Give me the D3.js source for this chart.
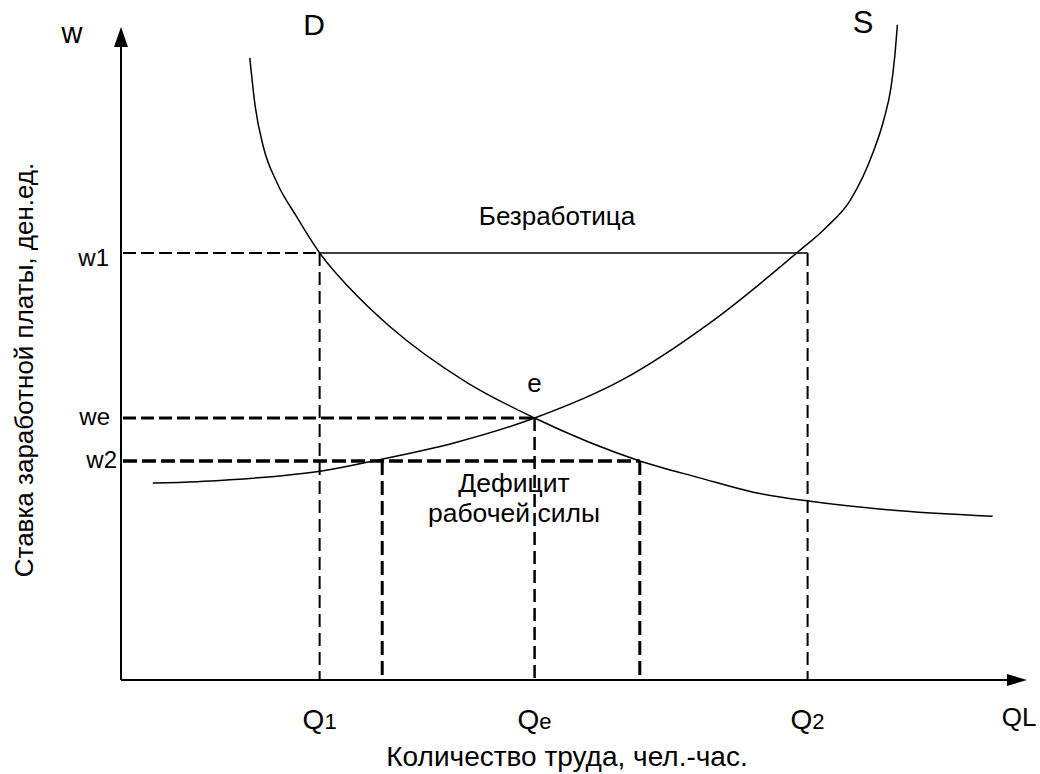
<!DOCTYPE html>
<html>
<head>
<meta charset="utf-8">
<script src="https://cdn.jsdelivr.net/npm/d3@7"></script>
<style>
  html, body { margin: 0; padding: 0; background: #fff; }
  svg { display: block; font-family: "Liberation Sans", Arial, sans-serif; }
</style>
</head>
<body>
<svg id="chart" width="1040" height="774"></svg>
<script>
// ---- Data (abstract units: Q on x, w on y) ----
const demandQ = [1.42, 1.48, 1.57, 1.72, 1.94, 2.19, 2.52, 2.97, 3.81, 4.56, 5.72, 6.38, 6.97, 7.60, 8.45, 9.61];
const demandW = [9.57, 8.82, 8.20, 7.65, 7.12, 6.57, 6.03, 5.43, 4.58, 4.03, 3.37, 3.11, 2.89, 2.75, 2.62, 2.52];
const supplyQ = [0.35, 0.84, 1.20, 1.75, 2.23, 2.78, 3.68, 4.56, 5.53, 6.49, 7.45, 7.78, 8.04, 8.29, 8.41, 8.49, 8.53, 8.56];
const supplyW = [3.03, 3.05, 3.08, 3.14, 3.22, 3.37, 3.65, 4.03, 4.62, 5.49, 6.57, 6.97, 7.38, 8.11, 8.62, 9.12, 9.58, 10.08];

const wNames  = ["w1", "we", "w2"];
const wValues = [6.57, 4.03, 3.37];
const qNames  = ["Q", "Q", "Q"];
const qSubs   = ["1", "e", "2"];
const qValues = [2.19, 4.56, 7.57];
const deficitQ = [2.88, 5.72];   // Q where w2 meets S and D

const curveNames = ["D", "S"];
const axisNames = ["w", "QL"];
const yTitle = "Ставка заработной платы, ден.ед.";
const xTitle = "Количество труда, чел.-час.";
const unemploymentLabel = "Безработица";
const deficitLabel = ["Дефицит", "рабочей силы"];
const eqLabel = "e";

// ---- Scales ----
const x = d3.scaleLinear().domain([0, 10]).range([121, 1028]);
const y = d3.scaleLinear().domain([0, 10]).range([680, 30]);

const svg = d3.select("#chart");
const g = svg.append("g");

// ---- Axes with arrows ----
g.append("line").attr("x1", x(0)).attr("y1", y(0)).attr("x2", x(0)).attr("y2", y(10) + 10)
  .attr("stroke", "#000").attr("stroke-width", 2);
g.append("line").attr("x1", x(0)).attr("y1", y(0)).attr("x2", x(10) - 12).attr("y2", y(0))
  .attr("stroke", "#000").attr("stroke-width", 2);
g.append("path")
  .attr("d", `M${x(0)},${y(10) - 3} L${x(0) - 7},${y(10) + 17} L${x(0) + 7},${y(10) + 17} Z`)
  .attr("fill", "#000");
g.append("path")
  .attr("d", `M${x(10) - 1},${y(0)} L${x(10) - 21},${y(0) - 6} L${x(10) - 21},${y(0) + 6} Z`)
  .attr("fill", "#000");

// ---- Dashed guide lines ----
function dline(x1, y1, x2, y2, w, dash) {
  g.append("line").attr("x1", x1).attr("y1", y1).attr("x2", x2).attr("y2", y2)
    .attr("stroke", "#000").attr("stroke-width", w).attr("stroke-dasharray", dash);
}
// w1 level: dashed to Q1, solid to Q2
dline(x(0) + 2, y(wValues[0]), x(qValues[0]), y(wValues[0]), 2, "13,5");
g.append("line").attr("x1", x(qValues[0])).attr("y1", y(wValues[0]))
  .attr("x2", x(qValues[2])).attr("y2", y(wValues[0]))
  .attr("stroke", "#000").attr("stroke-width", 1.5);
dline(x(qValues[0]), y(wValues[0]), x(qValues[0]), y(0), 2, "13,6");
dline(x(qValues[2]), y(wValues[0]), x(qValues[2]), y(0), 2, "13,6");
// equilibrium
dline(x(0) + 2, y(wValues[1]), x(qValues[1]), y(wValues[1]), 3, "13,5");
dline(x(qValues[1]), y(wValues[1]), x(qValues[1]), y(0), 2.5, "13,6");
// w2 level (deficit)
dline(x(0) + 2, y(wValues[2]), x(deficitQ[1]), y(wValues[2]), 3.5, "14,5");
dline(x(deficitQ[0]), y(wValues[2]), x(deficitQ[0]), y(0), 3, "14,6");
dline(x(deficitQ[1]), y(wValues[2]), x(deficitQ[1]), y(0), 3, "14,6");

// ---- Curves ----
const line = d3.line().x(d => x(d[0])).y(d => y(d[1])).curve(d3.curveMonotoneX);
g.append("path").datum(d3.zip(demandQ, demandW)).attr("d", line)
  .attr("fill", "none").attr("stroke", "#000").attr("stroke-width", 1.5);
g.append("path").datum(d3.zip(supplyQ, supplyW)).attr("d", line)
  .attr("fill", "none").attr("stroke", "#000").attr("stroke-width", 1.5);

// ---- Text ----
function txt(s, tx, ty, size, anchor) {
  return g.append("text").attr("x", tx).attr("y", ty).attr("font-size", size)
    .attr("text-anchor", anchor || "middle").attr("fill", "#000").text(s);
}
txt(axisNames[0], 72, 43, 29);
txt(curveNames[0], 314, 35, 30);
txt(curveNames[1], 863, 33, 31);
txt(axisNames[1], 1019, 726, 26);

const wDy = [13, 7, 7];
const wEnd = [109, 110, 117];
wNames.forEach((n, i) => txt(n, wEnd[i], y(wValues[i]) + wDy[i], 24, "end"));

qNames.forEach((n, i) => {
  const t = txt(n, x(qValues[i]), 729, 28);
  t.append("tspan").attr("font-size", 22).text(qSubs[i]);
});

txt(eqLabel, x(qValues[1]), 392, 26);
txt(unemploymentLabel, 557, 225, 26);
txt(deficitLabel[0], 514, 492, 26.5);
txt(deficitLabel[1], 514, 522, 26.5);

txt(xTitle, 567, 766, 28);
g.append("text").attr("transform", "translate(33,370) rotate(-90)")
  .attr("font-size", 26).attr("text-anchor", "middle").attr("fill", "#000").text(yTitle);
</script>
</body>
</html>
